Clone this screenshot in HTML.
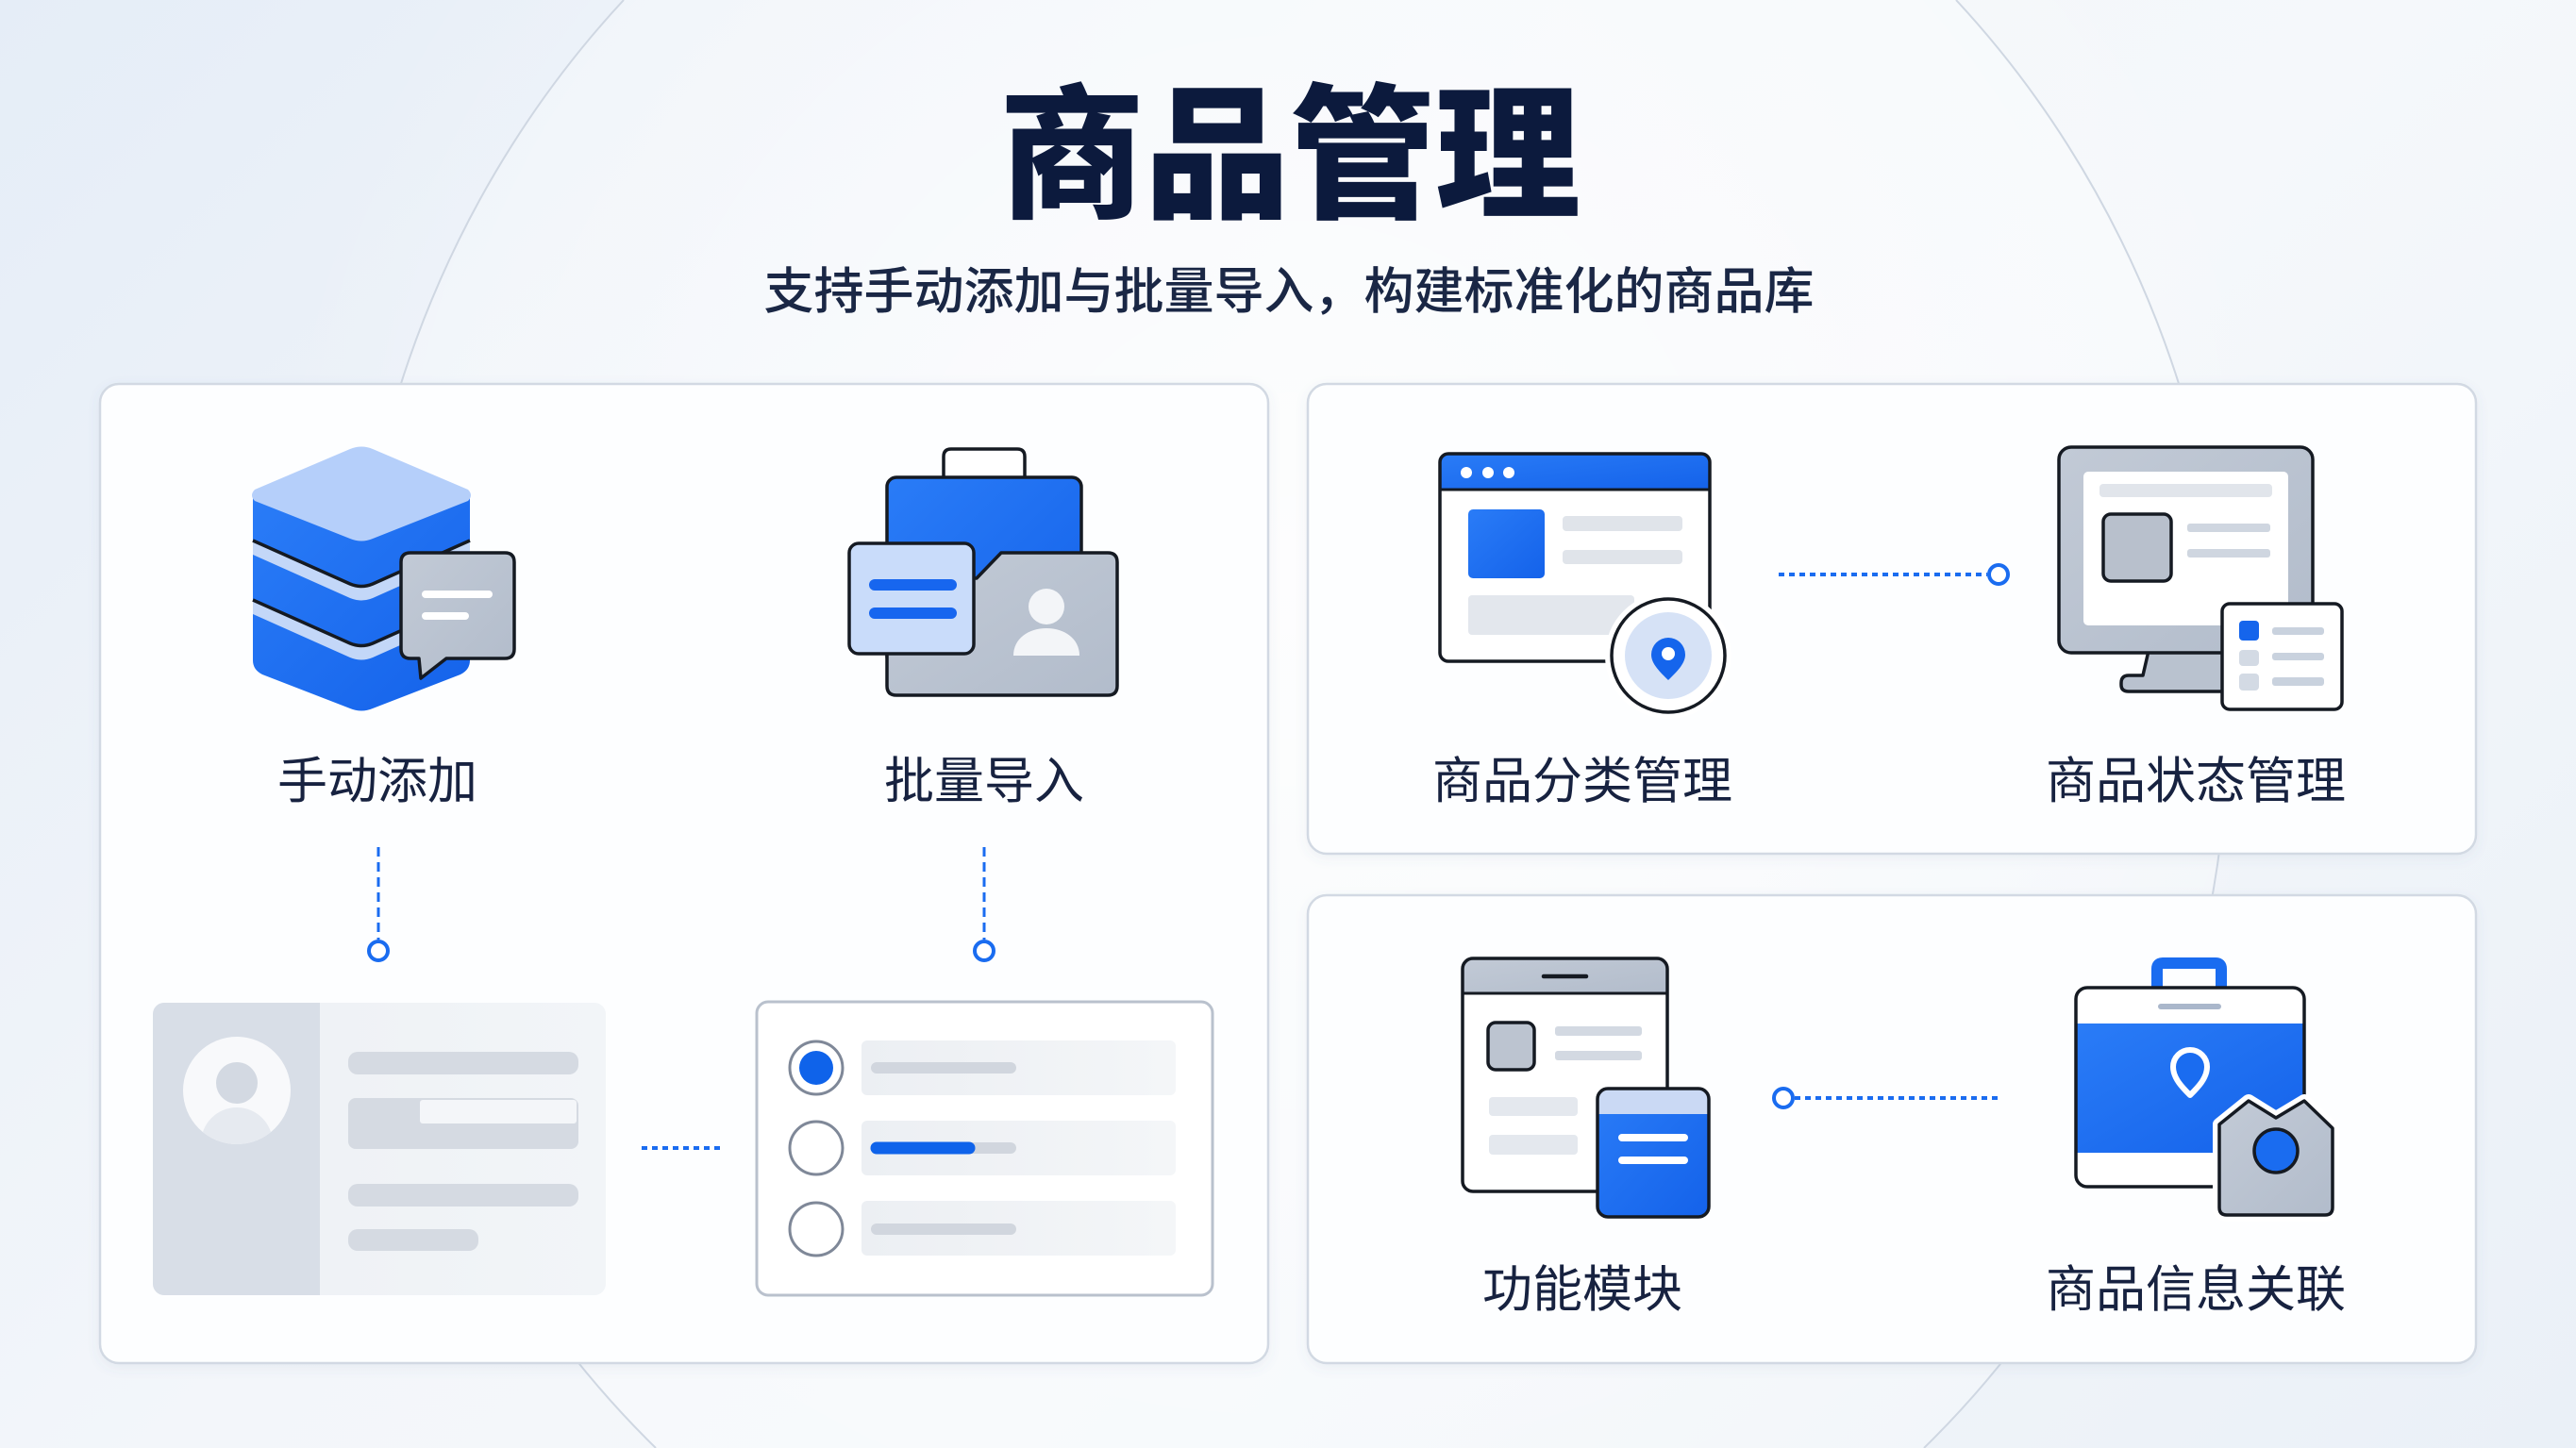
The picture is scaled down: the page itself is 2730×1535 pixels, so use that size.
<!DOCTYPE html>
<html>
<head>
<meta charset="utf-8">
<style>
  html,body{margin:0;padding:0;width:2730px;height:1535px;overflow:hidden;}
  body{position:relative;
    background:linear-gradient(135deg,#e5edf7 0%,#f3f6fa 40%,#f5f8fb 60%,#eaf0f7 100%);}
  svg{position:absolute;left:0;top:0;display:block;overflow:hidden;}
  .t{font-family:"Liberation Sans","Noto Sans CJK SC",sans-serif;}
</style>
</head>
<body>
<svg width="2730" height="1535" viewBox="0 0 2730 1535" xmlns="http://www.w3.org/2000/svg">
  <defs>
    <radialGradient id="glow" cx="1367" cy="600" r="1100" gradientUnits="userSpaceOnUse">
      <stop offset="0" stop-color="#ffffff" stop-opacity="0.75"/>
      <stop offset="1" stop-color="#ffffff" stop-opacity="0"/>
    </radialGradient>
    <linearGradient id="blue" x1="0" y1="0" x2="1" y2="1">
      <stop offset="0" stop-color="#2a7cf7"/>
      <stop offset="1" stop-color="#1462ea"/>
    </linearGradient>
    <linearGradient id="gray" x1="0" y1="0" x2="1" y2="1">
      <stop offset="0" stop-color="#c2cad6"/>
      <stop offset="1" stop-color="#b2bccb"/>
    </linearGradient>
    <linearGradient id="barg" x1="0" y1="0" x2="1" y2="0">
      <stop offset="0" stop-color="#eceff3"/>
      <stop offset="1" stop-color="#f4f6f8"/>
    </linearGradient>
    <linearGradient id="cardR" x1="0" y1="0" x2="1" y2="0">
      <stop offset="0" stop-color="#edf0f4"/>
      <stop offset="1" stop-color="#f2f5f8"/>
    </linearGradient>
    <filter id="sh" x="-5%" y="-5%" width="110%" height="110%">
      <feDropShadow dx="0" dy="4" stdDeviation="6" flood-color="#5a6f90" flood-opacity="0.08"/>
    </filter>
    <clipPath id="avclip"><circle cx="251" cy="1156" r="57"/></clipPath>
    <clipPath id="pcclip"><rect x="162" y="1063" width="480" height="310" rx="12"/></clipPath>
    <clipPath id="tabclip"><rect x="1550" y="1016" width="217" height="247" rx="11"/></clipPath>
    <clipPath id="phclip"><rect x="1693" y="1154" width="118" height="136" rx="11"/></clipPath>
    <clipPath id="bagclip"><rect x="2200" y="1047" width="242" height="211" rx="12"/></clipPath>
    <clipPath id="brclip"><rect x="1526" y="481" width="286" height="220" rx="9"/></clipPath>
  </defs>

  <!-- background glow & large ellipse (only visible portion) -->
  <rect x="0" y="0" width="2730" height="1535" fill="url(#glow)"/>
  <path d="M661 0 A995 1064 0 0 0 695 1535 L2039 1535 A995 1064 0 0 0 2073 0 Z" fill="#ffffff" fill-opacity="0.25"/>
  <path d="M661 0 A995 1064 0 0 0 695 1535" fill="none" stroke="#cfd7e2" stroke-width="2"/>
  <path d="M2073 0 A995 1064 0 0 1 2039 1535" fill="none" stroke="#cfd7e2" stroke-width="2"/>

  <!-- Title -->
  <text class="t" x="1367" y="219" text-anchor="middle" font-size="154" font-weight="900" fill="#0c1a3d">商品管理</text>
  <text class="t" x="1366" y="327" text-anchor="middle" font-size="53" font-weight="500" fill="#1a2745">支持手动添加与批量导入，构建标准化的商品库</text>

  <!-- Cards -->
  <rect x="106" y="407" width="1238" height="1038" rx="20" fill="#fdfeff" stroke="#d2d9e3" stroke-width="2.5" filter="url(#sh)"/>
  <rect x="1386" y="407" width="1238" height="498" rx="20" fill="#fdfeff" stroke="#d2d9e3" stroke-width="2.5" filter="url(#sh)"/>
  <rect x="1386" y="949" width="1238" height="496" rx="20" fill="#fdfeff" stroke="#d2d9e3" stroke-width="2.5" filter="url(#sh)"/>

  <!-- ============ Database icon ============ -->
  <path d="M268 525 V700 Q268 710 278 715 L371 751 Q383 756 395 751 L488 715 Q498 710 498 700 V525 Z" fill="url(#blue)"/>
  <path d="M268 573 L371 619 Q383 624 395 619 L498 573 V588 L395 634 Q383 639 371 634 L268 588 Z" fill="#c3d7f8"/>
  <path d="M268 573 L371 619 Q383 624 395 619 L498 573" fill="none" stroke="#151a22" stroke-width="3.5"/>
  <path d="M268 636 L371 682 Q383 687 395 682 L498 636 V651 L395 697 Q383 702 371 697 L268 651 Z" fill="#c3d7f8"/>
  <path d="M268 636 L371 682 Q383 687 395 682 L498 636" fill="none" stroke="#151a22" stroke-width="3.5"/>
  <path d="M270 519 L371 476 Q383 471 395 476 L496 519 Q502 525 496 531 L395 571 Q383 576 371 571 L270 531 Q264 525 270 519 Z" fill="#b5cffa"/>
  <!-- speech bubble -->
  <path d="M435 586 H535 Q545 586 545 596 V688 Q545 698 535 698 H473 L446 719 L444 698 H435 Q425 698 425 688 V596 Q425 586 435 586 Z" fill="url(#gray)" stroke="#151a22" stroke-width="3.5" stroke-linejoin="round"/>
  <line x1="451" y1="630" x2="518" y2="630" stroke="#ffffff" stroke-width="8" stroke-linecap="round"/>
  <line x1="451" y1="653" x2="493" y2="653" stroke="#ffffff" stroke-width="8" stroke-linecap="round"/>

  <!-- ============ Folder icon ============ -->
  <path d="M1000 508 V484 Q1000 476 1008 476 H1078 Q1086 476 1086 484 V508" fill="#ffffff" stroke="#151a22" stroke-width="3.5"/>
  <rect x="940" y="506" width="206" height="200" rx="10" fill="url(#blue)" stroke="#151a22" stroke-width="3.5"/>
  <path d="M940 613 L1035 613 L1061 586 H1174 Q1184 586 1184 596 V727 Q1184 737 1174 737 H950 Q940 737 940 727 Z" fill="url(#gray)" stroke="#151a22" stroke-width="3.5" stroke-linejoin="round"/>
  <rect x="900" y="576" width="132" height="117" rx="10" fill="#c9dcfa" stroke="#151a22" stroke-width="3.5"/>
  <line x1="927" y1="620" x2="1008" y2="620" stroke="#1766ef" stroke-width="12" stroke-linecap="round"/>
  <line x1="927" y1="650" x2="1008" y2="650" stroke="#1766ef" stroke-width="12" stroke-linecap="round"/>
  <circle cx="1109" cy="643" r="19" fill="#f3f5f8"/>
  <path d="M1074 695 C1074 677 1090 666 1109 666 C1128 666 1144 677 1144 695 Z" fill="#f3f5f8"/>

  <!-- labels left -->
  <text class="t" x="400" y="846" text-anchor="middle" font-size="53" font-weight="400" fill="#172240">手动添加</text>
  <text class="t" x="1043" y="846" text-anchor="middle" font-size="53" font-weight="400" fill="#172240">批量导入</text>

  <!-- vertical connectors -->
  <line x1="401" y1="898" x2="401" y2="996" stroke="#1a6cf0" stroke-width="3" stroke-dasharray="10 6"/>
  <circle cx="401" cy="1008" r="10" fill="#ffffff" stroke="#1a6cf0" stroke-width="4"/>
  <line x1="1043" y1="898" x2="1043" y2="996" stroke="#1a6cf0" stroke-width="3" stroke-dasharray="10 6"/>
  <circle cx="1043" cy="1008" r="10" fill="#ffffff" stroke="#1a6cf0" stroke-width="4"/>

  <!-- profile card -->
  <g clip-path="url(#pcclip)">
    <rect x="162" y="1063" width="480" height="310" fill="url(#cardR)"/>
    <rect x="162" y="1063" width="177" height="310" fill="#d8dee7"/>
  </g>
  <circle cx="251" cy="1156" r="57" fill="#f8f9fb"/>
  <g clip-path="url(#avclip)">
    <ellipse cx="251" cy="1212" rx="38" ry="38" fill="#e6eaf0"/>
  </g>
  <circle cx="251" cy="1148" r="22" fill="#d3d9e2"/>
  <rect x="369" y="1115" width="244" height="24" rx="10" fill="#d5dae2"/>
  <rect x="369" y="1164" width="244" height="54" rx="8" fill="#d5dae2"/>
  <rect x="445" y="1166" width="166" height="25" rx="3" fill="#f4f6f9"/>
  <rect x="369" y="1255" width="244" height="24" rx="10" fill="#d5dae2"/>
  <rect x="369" y="1303" width="138" height="23" rx="10" fill="#d5dae2"/>

  <!-- horizontal dotted -->
  <line x1="680" y1="1217" x2="766" y2="1217" stroke="#1a6cf0" stroke-width="4" stroke-dasharray="6 5"/>

  <!-- radio card -->
  <rect x="802" y="1062" width="483" height="311" rx="12" fill="#ffffff" stroke="#b9c1cd" stroke-width="3"/>
  <rect x="913" y="1103" width="333" height="58" rx="6" fill="url(#barg)"/>
  <rect x="913" y="1188" width="333" height="58" rx="6" fill="url(#barg)"/>
  <rect x="913" y="1273" width="333" height="58" rx="6" fill="url(#barg)"/>
  <line x1="929" y1="1132" x2="1071" y2="1132" stroke="#d1d6de" stroke-width="12" stroke-linecap="round"/>
  <line x1="929" y1="1217" x2="1071" y2="1217" stroke="#d1d6de" stroke-width="12" stroke-linecap="round"/>
  <line x1="929" y1="1217" x2="1027" y2="1217" stroke="#0f63ea" stroke-width="13" stroke-linecap="round"/>
  <line x1="929" y1="1303" x2="1071" y2="1303" stroke="#d1d6de" stroke-width="12" stroke-linecap="round"/>
  <circle cx="865" cy="1132" r="28" fill="#ffffff" stroke="#7f8898" stroke-width="3"/>
  <circle cx="865" cy="1132" r="18" fill="#0f63ea"/>
  <circle cx="865" cy="1217" r="28" fill="#ffffff" stroke="#7f8898" stroke-width="3"/>
  <circle cx="865" cy="1303" r="28" fill="#ffffff" stroke="#7f8898" stroke-width="3"/>

  <!-- ============ Browser icon ============ -->
  <rect x="1526" y="481" width="286" height="220" rx="9" fill="#ffffff"/>
  <g clip-path="url(#brclip)">
    <rect x="1526" y="481" width="286" height="38" fill="url(#blue)"/>
  </g>
  <line x1="1526" y1="519" x2="1812" y2="519" stroke="#151a22" stroke-width="3"/>
  <rect x="1526" y="481" width="286" height="220" rx="9" fill="none" stroke="#151a22" stroke-width="3.5"/>
  <circle cx="1554" cy="501" r="6" fill="#ffffff"/>
  <circle cx="1577" cy="501" r="6" fill="#ffffff"/>
  <circle cx="1599" cy="501" r="6" fill="#ffffff"/>
  <rect x="1556" y="540" width="81" height="73" rx="5" fill="url(#blue)"/>
  <rect x="1656" y="547" width="127" height="16" rx="4" fill="#e0e4ea"/>
  <rect x="1656" y="583" width="127" height="15" rx="4" fill="#e0e4ea"/>
  <rect x="1556" y="631" width="176" height="42" rx="4" fill="#e3e7ed"/>
  <circle cx="1768" cy="695" r="67" fill="#ffffff"/>
  <circle cx="1768" cy="695" r="60" fill="#ffffff" stroke="#151a22" stroke-width="3.5"/>
  <circle cx="1768" cy="695" r="46" fill="#d6e2f6"/>
  <path d="M1768 721 C1760 713 1750 704 1750 694 A18 18 0 1 1 1786 694 C1786 704 1776 713 1768 721 Z" fill="#1565ec"/>
  <circle cx="1768" cy="693" r="7" fill="#ffffff"/>

  <!-- connector top right -->
  <line x1="1885" y1="609" x2="2106" y2="609" stroke="#1a6cf0" stroke-width="4" stroke-dasharray="6 5"/>
  <circle cx="2118" cy="609" r="10" fill="#ffffff" stroke="#1a6cf0" stroke-width="4"/>

  <!-- ============ Monitor icon ============ -->
  <path d="M2277 690 L2271 716 H2256 Q2248 716 2248 724 V726 Q2248 733 2256 733 H2362 V690 Z" fill="#b9c2cf" stroke="#151a22" stroke-width="3.5" stroke-linejoin="round"/>
  <rect x="2182" y="474" width="269" height="218" rx="13" fill="url(#gray)" stroke="#151a22" stroke-width="3.5"/>
  <rect x="2208" y="500" width="217" height="163" rx="5" fill="#ffffff"/>
  <rect x="2225" y="513" width="183" height="14" rx="4" fill="#e1e5eb"/>
  <rect x="2229" y="545" width="72" height="71" rx="8" fill="#b8c0cc" stroke="#151a22" stroke-width="3.5"/>
  <rect x="2318" y="555" width="88" height="9" rx="3" fill="#cfd6e0"/>
  <rect x="2318" y="582" width="88" height="9" rx="3" fill="#cfd6e0"/>
  <rect x="2355" y="640" width="127" height="112" rx="8" fill="#ffffff" stroke="#151a22" stroke-width="3.5"/>
  <rect x="2373" y="658" width="21" height="21" rx="4" fill="#1565ec"/>
  <rect x="2373" y="689" width="21" height="17" rx="4" fill="#d3dae4"/>
  <rect x="2373" y="714" width="21" height="18" rx="4" fill="#d3dae4"/>
  <rect x="2408" y="665" width="55" height="8" rx="3" fill="#c9d2de"/>
  <rect x="2408" y="692" width="55" height="8" rx="3" fill="#c9d2de"/>
  <rect x="2408" y="718" width="55" height="9" rx="3" fill="#c9d2de"/>

  <!-- labels right top -->
  <text class="t" x="1677" y="846" text-anchor="middle" font-size="53" font-weight="400" fill="#172240">商品分类管理</text>
  <text class="t" x="2327" y="846" text-anchor="middle" font-size="53" font-weight="400" fill="#172240">商品状态管理</text>

  <!-- ============ Tablet icon ============ -->
  <rect x="1550" y="1016" width="217" height="247" rx="11" fill="#ffffff"/>
  <g clip-path="url(#tabclip)">
    <rect x="1550" y="1016" width="217" height="37" fill="url(#gray)"/>
  </g>
  <line x1="1550" y1="1053" x2="1767" y2="1053" stroke="#151a22" stroke-width="3"/>
  <rect x="1550" y="1016" width="217" height="247" rx="11" fill="none" stroke="#151a22" stroke-width="3.5"/>
  <line x1="1636" y1="1035" x2="1681" y2="1035" stroke="#151a22" stroke-width="4.5" stroke-linecap="round"/>
  <rect x="1577" y="1084" width="49" height="50" rx="8" fill="#bcc4d0" stroke="#151a22" stroke-width="3.5"/>
  <rect x="1648" y="1088" width="92" height="10" rx="3" fill="#d3d9e2"/>
  <rect x="1648" y="1114" width="92" height="10" rx="3" fill="#d3d9e2"/>
  <rect x="1578" y="1163" width="94" height="20" rx="4" fill="#e4e8ee"/>
  <rect x="1578" y="1203" width="94" height="21" rx="4" fill="#e4e8ee"/>
  <rect x="1693" y="1154" width="118" height="136" rx="11" fill="url(#blue)"/>
  <g clip-path="url(#phclip)">
    <rect x="1693" y="1154" width="118" height="27" fill="#cad9f4"/>
  </g>
  <rect x="1693" y="1154" width="118" height="136" rx="11" fill="none" stroke="#151a22" stroke-width="3.5"/>
  <line x1="1719" y1="1206" x2="1785" y2="1206" stroke="#ffffff" stroke-width="8" stroke-linecap="round"/>
  <line x1="1719" y1="1230" x2="1785" y2="1230" stroke="#ffffff" stroke-width="8" stroke-linecap="round"/>

  <!-- connector bottom right -->
  <circle cx="1890" cy="1164" r="10" fill="#ffffff" stroke="#1a6cf0" stroke-width="4"/>
  <line x1="1902" y1="1164" x2="2118" y2="1164" stroke="#1a6cf0" stroke-width="4" stroke-dasharray="6 5"/>

  <!-- ============ Bag icon ============ -->
  <path d="M2286 1050 V1027 Q2286 1021 2292 1021 H2348 Q2354 1021 2354 1027 V1050" fill="none" stroke="#1a6cf0" stroke-width="12"/>
  <rect x="2200" y="1047" width="242" height="211" rx="12" fill="#ffffff"/>
  <g clip-path="url(#bagclip)">
    <rect x="2200" y="1085" width="242" height="137" fill="url(#blue)"/>
  </g>
  <rect x="2200" y="1047" width="242" height="211" rx="12" fill="none" stroke="#151a22" stroke-width="3.5"/>
  <line x1="2290" y1="1067" x2="2351" y2="1067" stroke="#aab7cb" stroke-width="6" stroke-linecap="round"/>
  <path d="M2321 1161 C2313 1153 2303 1143 2303 1131 A18 18 0 1 1 2339 1131 C2339 1143 2329 1153 2321 1161 Z" fill="#1a6cf0" stroke="#ffffff" stroke-width="6" stroke-linejoin="round"/>
  <path d="M2352 1192 L2383 1167 L2412 1185 L2442 1167 L2472 1196 V1280 Q2472 1288 2464 1288 H2360 Q2352 1288 2352 1280 Z" fill="#ffffff" stroke="#ffffff" stroke-width="14" stroke-linejoin="round"/>
  <path d="M2352 1192 L2383 1167 L2412 1185 L2442 1167 L2472 1196 V1280 Q2472 1288 2464 1288 H2360 Q2352 1288 2352 1280 Z" fill="url(#gray)" stroke="#151a22" stroke-width="3.5" stroke-linejoin="round"/>
  <circle cx="2412" cy="1220" r="23" fill="#1a6cf0" stroke="#151a22" stroke-width="3.5"/>

  <!-- labels right bottom -->
  <text class="t" x="1677" y="1385" text-anchor="middle" font-size="53" font-weight="400" fill="#172240">功能模块</text>
  <text class="t" x="2327" y="1385" text-anchor="middle" font-size="53" font-weight="400" fill="#172240">商品信息关联</text>
</svg>
</body>
</html>
